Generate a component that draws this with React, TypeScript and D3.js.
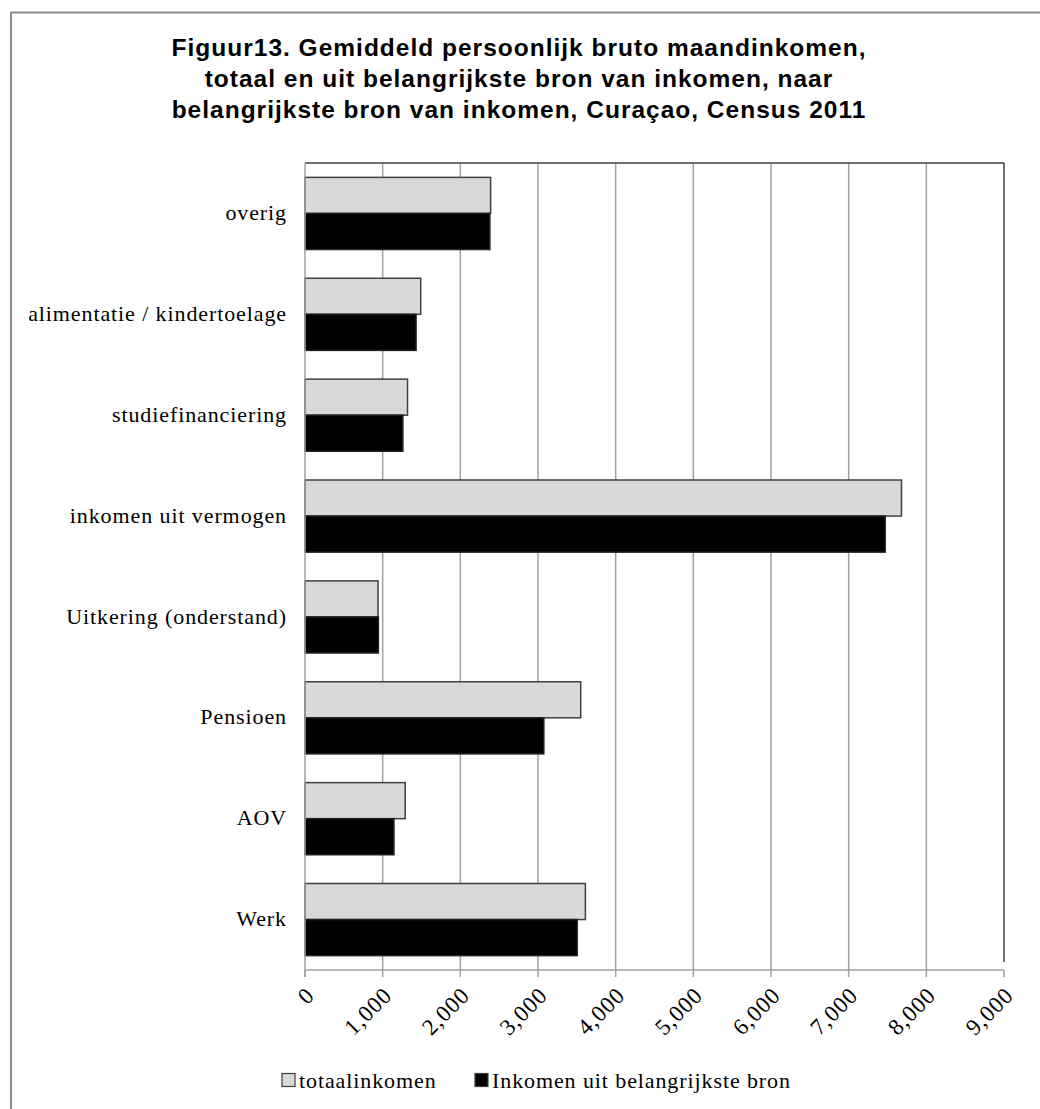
import React from 'react';
import * as d3 from 'd3';

const WIDTH = 1040;
const HEIGHT = 1109;

// data order as in the sheet (bottom to top on the chart)
const categories = [
  'Werk',
  'AOV',
  'Pensioen',
  'Uitkering (onderstand)',
  'inkomen uit vermogen',
  'studiefinanciering',
  'alimentatie / kindertoelage',
  'overig',
];
const totaalinkomen = [3610, 1290, 3550, 940, 7680, 1320, 1490, 2390];
const hoofdbron = [3505, 1145, 3075, 945, 7470, 1260, 1430, 2380];
const seriesNames = ['totaalinkomen', 'Inkomen uit belangrijkste bron'];
const xTicks = [0, 1000, 2000, 3000, 4000, 5000, 6000, 7000, 8000, 9000];
const titleLines = [
  'Figuur13. Gemiddeld persoonlijk bruto maandinkomen,',
  'totaal en uit belangrijkste bron van inkomen, naar',
  'belangrijkste bron van inkomen, Curaçao, Census 2011',
];

const fills = ['#d9d9d9', '#000000'];
const serif = '"Liberation Serif", "Times New Roman", serif';
const sans = '"Liberation Sans", Arial, sans-serif';

const m = { l: 305, r: 1004, t: 163, b: 970 };

const App = () => {
  const x = d3.scaleLinear().domain([0, 9000]).range([m.l, m.r]);
  // top-to-bottom order is reversed from data order
  const y = d3
    .scaleBand<string>()
    .domain([...categories].reverse())
    .range([m.t, m.b])
    .paddingInner(0.285)
    .paddingOuter(0.1425);
  const inner = d3.scaleBand<number>().domain([0, 1]).range([0, y.bandwidth()]);
  const values = [totaalinkomen, hoofdbron];

  const fmt = d3.format(',');

  return (
    <svg
      width={WIDTH}
      height={HEIGHT}
      style={{ position: 'absolute', left: 0, top: 0, background: '#fff' }}
    >
      <rect x={0} y={0} width={WIDTH} height={HEIGHT} fill="#fff" />
      {/* chart frame, runs off the right/bottom edge */}
      <rect x={11} y={12.5} width={1200} height={1200} fill="none" stroke="#8c8c8c" strokeWidth={2} />

      {titleLines.map((t, i) => (
        <text
          key={i}
          x={519}
          y={56 + i * 31}
          textAnchor="middle"
          fontFamily={sans}
          fontWeight="bold"
          fontSize={24.5}
          letterSpacing={1}
          fill="#000"
        >
          {t}
        </text>
      ))}

      {/* gridlines */}
      {xTicks.slice(1, -1).map((t) => (
        <line key={t} x1={x(t)} x2={x(t)} y1={m.t} y2={m.b} stroke="#a0a0a0" strokeWidth={1.5} />
      ))}
      {/* plot border top / right */}
      <line x1={m.l} x2={m.r} y1={m.t} y2={m.t} stroke="#404040" strokeWidth={1.5} />
      <line x1={m.r} x2={m.r} y1={m.t} y2={m.b - 8} stroke="#404040" strokeWidth={1.5} />

      {/* bars */}
      {categories.map((c, ci) =>
        values.map((vals, si) => (
          <rect
            key={`${c}-${si}`}
            x={x(0)}
            y={(y(c) as number) + (inner(si) as number)}
            width={x(vals[ci]) - x(0)}
            height={inner.bandwidth()}
            fill={fills[si]}
            stroke={si === 0 ? '#404040' : '#202020'}
            strokeWidth={1.5}
          />
        ))
      )}

      {/* axes */}
      <line x1={m.l} x2={m.l} y1={m.t} y2={m.b + 7} stroke="#a0a0a0" strokeWidth={1.5} />
      <line x1={m.l} x2={m.r} y1={m.b} y2={m.b} stroke="#a0a0a0" strokeWidth={1.5} />
      {xTicks.map((t) => (
        <g key={t}>
          <line x1={x(t)} x2={x(t)} y1={m.b} y2={m.b + 7} stroke="#a0a0a0" strokeWidth={1.5} />
          <text
            transform={`translate(${x(t) + 5},${m.b + 21}) rotate(-45)`}
            textAnchor="end"
            fontFamily={serif}
            fontSize={23}
            letterSpacing={0.9}
            dy="0.35em"
            fill="#000"
          >
            {fmt(t)}
          </text>
        </g>
      ))}

      {/* category labels */}
      {categories.map((c) => (
        <text
          key={c}
          x={287}
          y={(y(c) as number) + y.bandwidth() / 2}
          dy="0.3em"
          textAnchor="end"
          fontFamily={serif}
          fontSize={22}
          letterSpacing={0.9}
          fill="#000"
        >
          {c}
        </text>
      ))}

      {/* legend */}
      {seriesNames.map((s, i) => {
        const lx = [282, 475][i];
        return (
          <g key={s}>
            <rect x={lx} y={1073.5} width={13} height={13} fill={fills[i]} stroke="#404040" strokeWidth={1.2} />
            <text
              x={lx + 17}
              y={1088}
              fontFamily={serif}
              fontSize={22}
              letterSpacing={0.9}
              fill="#000"
            >
              {s}
            </text>
          </g>
        );
      })}
    </svg>
  );
};

export default App;
